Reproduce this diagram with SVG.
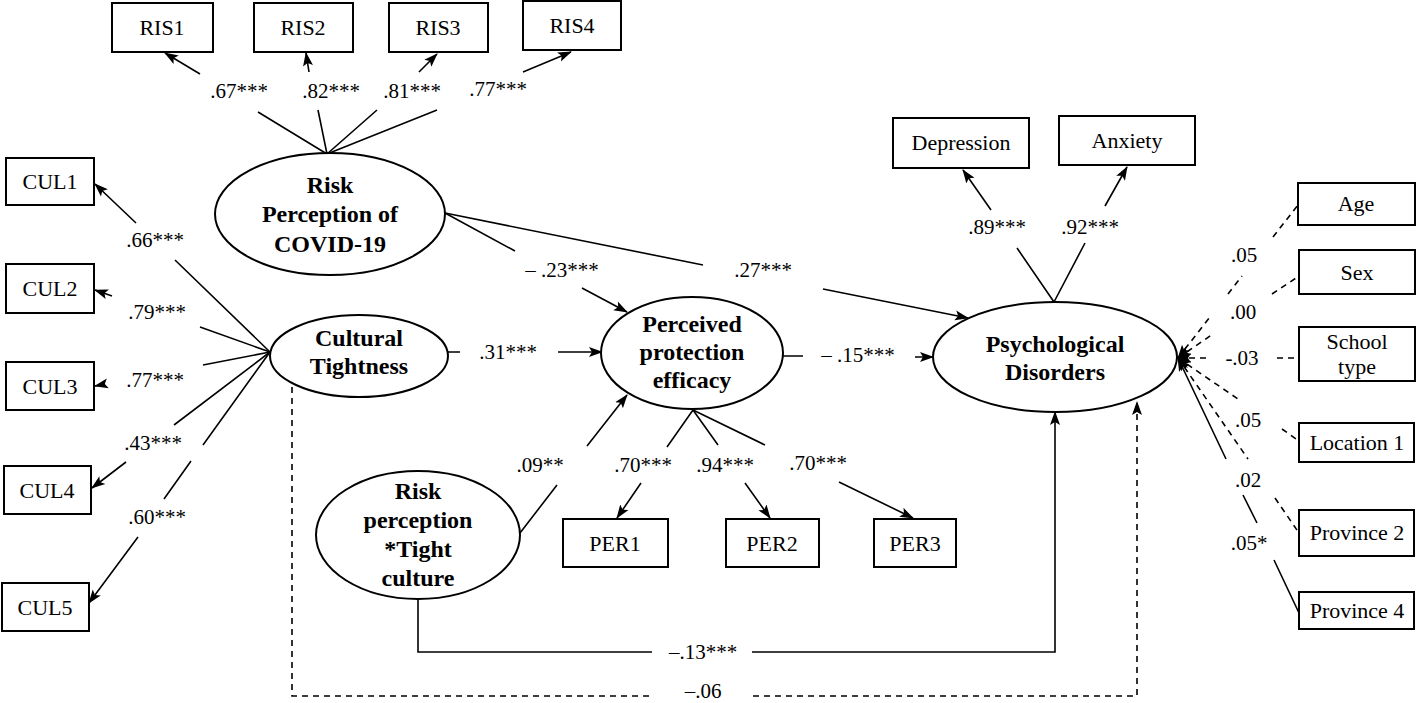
<svg xmlns="http://www.w3.org/2000/svg" width="1418" height="703" viewBox="0 0 1418 703">
<style>
.box{fill:#fff;stroke:#000;stroke-width:2}
.ell{fill:#fff;stroke:#000;stroke-width:2}
.bt{font-family:"Liberation Serif","Times New Roman",serif;font-size:22px;text-anchor:middle;fill:#000}
.et{font-family:"Liberation Serif","Times New Roman",serif;font-size:24px;font-weight:bold;text-anchor:middle;fill:#000}
.lb{font-family:"Liberation Serif","Times New Roman",serif;font-size:21px;text-anchor:middle;fill:#000}
.ln{fill:none;stroke:#000;stroke-width:1.6}
.dash{stroke-dasharray:6 5}
</style>
<defs>
<marker id="ah" markerUnits="userSpaceOnUse" markerWidth="14" markerHeight="12" viewBox="0 0 14 12" refX="13" refY="6" orient="auto">
<path d="M0,1 L14,6 L0,11 L3,6 Z" fill="#000"/>
</marker>
<marker id="ahs" markerUnits="userSpaceOnUse" markerWidth="14" markerHeight="12" viewBox="0 0 14 12" refX="13" refY="6" orient="auto-start-reverse">
<path d="M0,1 L14,6 L0,11 L3,6 Z" fill="#000"/>
</marker>
</defs>

<g id="connectors">
<!-- RIS indicators -->
<path class="ln" d="M327,154 L258,112 M200,74 L165,53" marker-end="url(#ah)"/>
<path class="ln" d="M327,154 L318,110 M309,72 L306,53" marker-end="url(#ah)"/>
<path class="ln" d="M327,154 L377,110 M419,72 L437,54" marker-end="url(#ah)"/>
<path class="ln" d="M327,154 L437,110 M523,72 L571,52" marker-end="url(#ah)"/>
<!-- CUL indicators -->
<path class="ln" d="M270,352 L175,260 M136,223 L95,184" marker-end="url(#ah)"/>
<path class="ln" d="M270,352 L200,327 M112,296 L95,290" marker-end="url(#ah)"/>
<path class="ln" d="M270,352 L203,365 M105,384 L95,386" marker-end="url(#ah)"/>
<path class="ln" d="M270,352 L174,425 M126,462 L92,488" marker-end="url(#ah)"/>
<path class="ln" d="M270,352 L203,445 M191,461 L164,499 M138,537 L89,603" marker-end="url(#ah)"/>
<!-- Structural paths -->
<path class="ln" d="M445,213 L515,251 M582,288 L627,312" marker-end="url(#ah)"/>
<path class="ln" d="M445,213 L703,265 M823,289 L968,318" marker-end="url(#ah)"/>
<path class="ln" d="M448,352 L460,352 M558,352 L602,352" marker-end="url(#ah)"/>
<path class="ln" d="M783,356 L803,356 M915,357 L933,357" marker-end="url(#ah)"/>
<path class="ln" d="M520,533 L557,485 M587,446 L627,395" marker-end="url(#ah)"/>
<!-- PER indicators -->
<path class="ln" d="M693,410 L667,447 M641,483 L617,518" marker-end="url(#ah)"/>
<path class="ln" d="M693,410 L718,445 M745,483 L770,518" marker-end="url(#ah)"/>
<path class="ln" d="M693,410 L765,445 M839,482 L913,518" marker-end="url(#ah)"/>
<!-- PD indicators -->
<path class="ln" d="M1054,302 L1017,248 M991,210 L963,170" marker-end="url(#ah)"/>
<path class="ln" d="M1054,302 L1085,243 M1105,206 L1127,167" marker-end="url(#ah)"/>
<!-- Controls -->
<path class="ln dash" d="M1178,358 L1210,317 M1228,294 L1242,276 M1273,237 L1298,205" marker-start="url(#ahs)"/>
<path class="ln dash" d="M1178,358 L1213,334 M1272,294 L1299,276" marker-start="url(#ahs)"/>
<path class="ln dash" d="M1178,358 L1210,358 M1277,358 L1299,358" marker-start="url(#ahs)"/>
<path class="ln dash" d="M1178,358 L1238,399 M1282,429 L1299,441" marker-start="url(#ahs)"/>
<path class="ln dash" d="M1178,358 L1248,459 M1275,498 L1299,533" marker-start="url(#ahs)"/>
<path class="ln" d="M1178,358 L1226,459 M1243,495 L1257,523 M1274,560 L1299,613" marker-start="url(#ahs)"/>
<!-- Bottom paths -->
<path class="ln" d="M418,599 V652 H652 M752,652 H1055 V412" marker-end="url(#ah)"/>
<path class="ln dash" d="M292,387 V696 H653 M753,696 H1137 V402" marker-end="url(#ah)"/>
<!-- Labels -->
<text class="lb" x="239" y="98">.67***</text>
<text class="lb" x="331" y="98">.82***</text>
<text class="lb" x="412" y="98">.81***</text>
<text class="lb" x="498" y="96">.77***</text>
<text class="lb" x="155" y="247">.66***</text>
<text class="lb" x="157" y="319">.79***</text>
<text class="lb" x="155" y="387">.77***</text>
<text class="lb" x="153" y="450">.43***</text>
<text class="lb" x="157" y="524">.60***</text>
<text class="lb" x="562" y="277">– .23***</text>
<text class="lb" x="763" y="277">.27***</text>
<text class="lb" x="508" y="359">.31***</text>
<text class="lb" x="858" y="362">– .15***</text>
<text class="lb" x="540" y="472">.09**</text>
<text class="lb" x="643" y="472">.70***</text>
<text class="lb" x="725" y="472">.94***</text>
<text class="lb" x="818" y="470">.70***</text>
<text class="lb" x="997" y="234">.89***</text>
<text class="lb" x="1090" y="234">.92***</text>
<text class="lb" x="1244" y="262">.05</text>
<text class="lb" x="1243" y="319">.00</text>
<text class="lb" x="1242" y="365">-.03</text>
<text class="lb" x="1248" y="427">.05</text>
<text class="lb" x="1248" y="487">.02</text>
<text class="lb" x="1249" y="550">.05*</text>
<text class="lb" x="703" y="659">–.13***</text>
<text class="lb" x="703" y="698">–.06</text>
</g>

<g id="RIS1"><rect class="box" x="112" y="3" width="101" height="49"/><text class="bt" x="162" y="35">RIS1</text></g>
<g id="RIS2"><rect class="box" x="254" y="3" width="99" height="49"/><text class="bt" x="303" y="35">RIS2</text></g>
<g id="RIS3"><rect class="box" x="389" y="3" width="99" height="49"/><text class="bt" x="438" y="35">RIS3</text></g>
<g id="RIS4"><rect class="box" x="523" y="1" width="98" height="49"/><text class="bt" x="572" y="33">RIS4</text></g>

<g id="CUL1"><rect class="box" x="6" y="158" width="88" height="47"/><text class="bt" x="50" y="189">CUL1</text></g>
<g id="CUL2"><rect class="box" x="6" y="264" width="88" height="49"/><text class="bt" x="50" y="296">CUL2</text></g>
<g id="CUL3"><rect class="box" x="6" y="362" width="88" height="48"/><text class="bt" x="50" y="394">CUL3</text></g>
<g id="CUL4"><rect class="box" x="4" y="466" width="87" height="48"/><text class="bt" x="47" y="498">CUL4</text></g>
<g id="CUL5"><rect class="box" x="2" y="583" width="87" height="48"/><text class="bt" x="45" y="615">CUL5</text></g>

<g id="RiskPerception"><ellipse class="ell" cx="330" cy="214" rx="115" ry="61"/>
<text class="et" x="330" y="193">Risk</text><text class="et" x="330" y="222">Perception of</text><text class="et" x="330" y="252">COVID-19</text></g>

<g id="CulturalTightness"><ellipse class="ell" cx="359" cy="356" rx="89" ry="41"/>
<text class="et" x="359" y="346">Cultural</text><text class="et" x="359" y="374">Tightness</text></g>

<g id="PerceivedEfficacy"><ellipse class="ell" cx="692" cy="353" rx="91" ry="56"/>
<text class="et" x="692" y="332">Perceived</text><text class="et" x="692" y="360">protection</text><text class="et" x="692" y="388">efficacy</text></g>

<g id="Interaction"><ellipse class="ell" cx="418" cy="535" rx="102" ry="64"/>
<text class="et" x="418" y="499">Risk</text><text class="et" x="418" y="528">perception</text><text class="et" x="418" y="557">*Tight</text><text class="et" x="418" y="586">culture</text></g>

<g id="PsychDisorders"><ellipse class="ell" cx="1055" cy="357" rx="122" ry="55"/>
<text class="et" x="1055" y="352">Psychological</text><text class="et" x="1055" y="380">Disorders</text></g>

<g id="PER1"><rect class="box" x="563" y="519" width="105" height="48"/><text class="bt" x="615" y="551">PER1</text></g>
<g id="PER2"><rect class="box" x="726" y="519" width="93" height="48"/><text class="bt" x="772" y="551">PER2</text></g>
<g id="PER3"><rect class="box" x="874" y="519" width="82" height="48"/><text class="bt" x="915" y="551">PER3</text></g>

<g id="Depression"><rect class="box" x="893" y="118" width="136" height="50"/><text class="bt" x="961" y="150">Depression</text></g>
<g id="Anxiety"><rect class="box" x="1059" y="116" width="136" height="49"/><text class="bt" x="1127" y="148">Anxiety</text></g>

<g id="Age"><rect class="box" x="1298" y="183" width="117" height="42"/><text class="bt" x="1356" y="211">Age</text></g>
<g id="Sex"><rect class="box" x="1299" y="250" width="116" height="44"/><text class="bt" x="1357" y="280">Sex</text></g>
<g id="SchoolType"><rect class="box" x="1299" y="327" width="116" height="54"/><text class="bt" x="1357" y="349">School</text><text class="bt" x="1357" y="374">type</text></g>
<g id="Location1"><rect class="box" x="1299" y="423" width="115" height="39"/><text class="bt" x="1357" y="450">Location 1</text></g>
<g id="Province2"><rect class="box" x="1299" y="510" width="115" height="46"/><text class="bt" x="1357" y="540">Province 2</text></g>
<g id="Province4"><rect class="box" x="1299" y="592" width="115" height="37"/><text class="bt" x="1357" y="618">Province 4</text></g>
</svg>
